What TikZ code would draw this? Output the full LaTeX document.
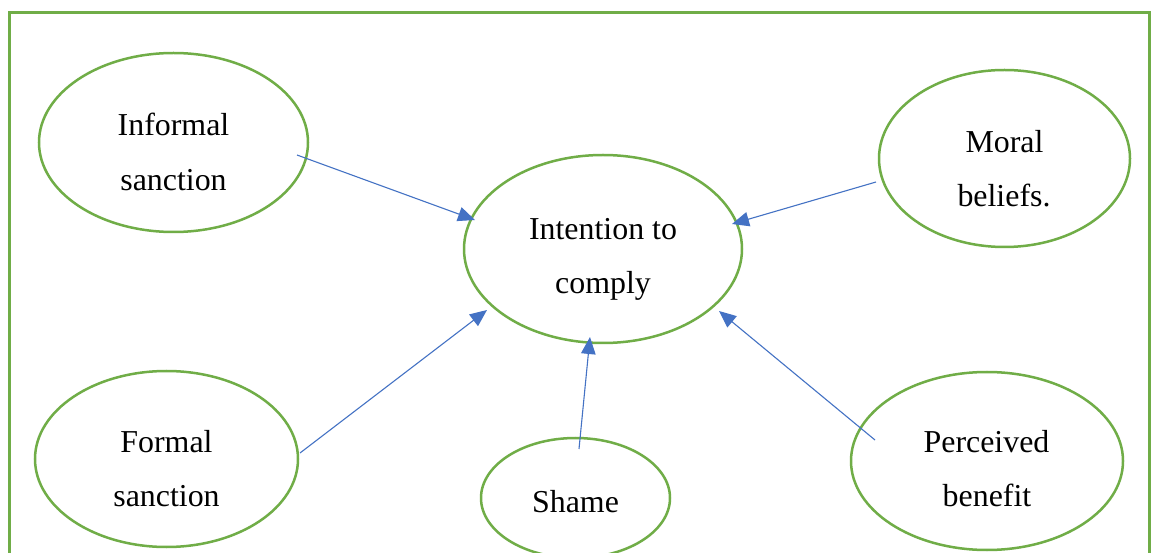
\documentclass[tikz,border=0pt]{standalone}
\usepackage{fontspec}
\setmainfont{Liberation Serif}
\usetikzlibrary{shapes.geometric,arrows.meta,calc}
\definecolor{leafgreen}{HTML}{70AD47}
\definecolor{linkblue}{HTML}{4472C4}
\begin{document}
\begin{tikzpicture}[x=1pt,y=-1pt,
  bubble/.style={ellipse,draw=leafgreen,line width=2.5pt,inner sep=0pt},
  word/.style={anchor=base,inner sep=0pt,font=\fontsize{31.9}{38}\selectfont},
  link/.style={draw=linkblue,line width=1.1pt,-{Triangle[length=17pt,width=14.5pt]}}]
\clip (0,0) rectangle (1152,553);
\fill[white] (0,0) rectangle (1152,553);
% outer frame (runs past the lower edge)
\draw[leafgreen,line width=3pt] (9.5,13) rectangle (1149.5,600);

% factor bubbles
\node[bubble,minimum width=269pt,minimum height=179pt] (inf) at (173.5,142.5) {};
\node[bubble,minimum width=278pt,minimum height=188pt] (int) at (603,249) {};
\node[bubble,minimum width=251pt,minimum height=177pt] (mor) at (1004.5,158.5) {};
\node[bubble,minimum width=263pt,minimum height=176pt] (frm) at (166.5,459) {};
\node[bubble,minimum width=189pt,minimum height=120pt] (sha) at (575.5,498) {};
\node[bubble,minimum width=272pt,minimum height=178pt] (per) at (987,461) {};

% labels, one node per line
\node[word] (inf1) at ($(inf.center)+(0,-6.5)$) {Informal};
\node[word] (inf2) at ($(inf.center)+(0,48.2)$) {sanction};
\node[word] (int1) at ($(int.center)+(0,-9)$) {Intention to};
\node[word] (int2) at ($(int.center)+(0,45)$) {comply};
\node[word] (mor1) at ($(mor.center)+(0,-5.8)$) {Moral};
\node[word] (mor2) at ($(mor.center)+(-0.5,48.5)$) {beliefs.};
\node[word] (frm1) at ($(frm.center)+(0,-6.3)$) {Formal};
\node[word] (frm2) at ($(frm.center)+(0,47.7)$) {sanction};
\node[word] (sha1) at ($(sha.center)+(0,14.7)$) {Shame};
\node[word] (per1) at ($(per.center)+(-0.5,-8)$) {Perceived};
\node[word] (per2) at ($(per.center)+(0,45.7)$) {benefit};

% influences on the intention to comply
\draw[link] ($(inf.center)+(123.5,12.5)$) -- ($(int.center)+(-128,-29)$);
\draw[link] ($(mor.center)+(-128.5,23.5)$) -- ($(int.center)+(129,-25)$);
\draw[link] ($(frm.center)+(133.5,-6)$) -- ($(int.center)+(-116,61)$);
\draw[link] ($(sha.center)+(3.5,-49)$) -- ($(int.center)+(-13,88)$);
\draw[link] ($(per.center)+(-112,-21)$) -- ($(int.center)+(116,62)$);
\end{tikzpicture}
\end{document}
